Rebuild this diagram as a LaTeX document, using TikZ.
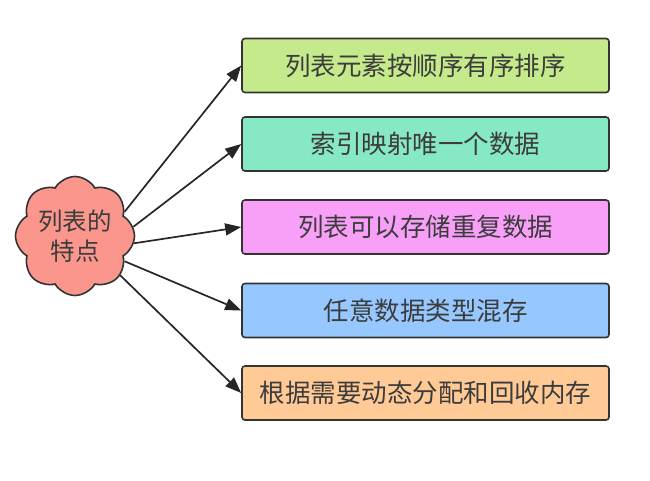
\documentclass[tikz,border=0pt]{standalone}
\usepackage{fontspec}
\setmainfont{Noto Sans CJK SC}
\usetikzlibrary{shapes.symbols,arrows.meta}
\definecolor{boxgreen}{RGB}{197,234,140}
\definecolor{boxteal}{RGB}{135,232,196}
\definecolor{boxpink}{RGB}{248,160,248}
\definecolor{boxblue}{RGB}{150,200,255}
\definecolor{boxorange}{RGB}{255,202,150}
\definecolor{cloudred}{RGB}{250,150,140}
\definecolor{textgray}{RGB}{60,60,60}

\begin{document}
\begin{tikzpicture}[x=1pt,y=-1pt,
  box/.style={draw=black!80, line width=1.6pt, rounded corners=3pt, minimum width=367pt, minimum height=54pt, font=\fontsize{25.5}{28}\selectfont, text=textgray},
  arr/.style={-{Triangle[length=16pt,width=12pt]}, line width=1.7pt, draw=black!85}]
\useasboundingbox (0,0) rectangle (650,481);
\node[cloud, cloud puffs=8, cloud puff arc=120, draw=black!80, line width=1.6pt, fill=cloudred, minimum width=117pt, minimum height=84pt, inner sep=0pt, align=center, text=textgray, font=\fontsize{24.5}{30}\selectfont] (feat) at (75,236) {列表的\\特点};
\node[box, fill=boxgreen] (order) at (425.5,65.5) {列表元素按顺序有序排序};
\node[box, fill=boxteal] (index) at (425.5,144) {索引映射唯一个数据};
\node[box, fill=boxpink] (dup) at (425.5,227) {列表可以存储重复数据};
\node[box, fill=boxblue] (mixed) at (425.5,310.5) {任意数据类型混存};
\node[box, fill=boxorange] (mem) at (425.5,393) {根据需要动态分配和回收内存};
\draw[arr] (feat.26) -- (order.west);
\draw[arr] (feat.9) -- (index.west);
\draw[arr] (feat.-7) -- (dup.west);
\draw[arr] (feat.-27) -- (mixed.west);
\draw[arr] (feat.-41) -- (mem.west);
\end{tikzpicture}
\end{document}
